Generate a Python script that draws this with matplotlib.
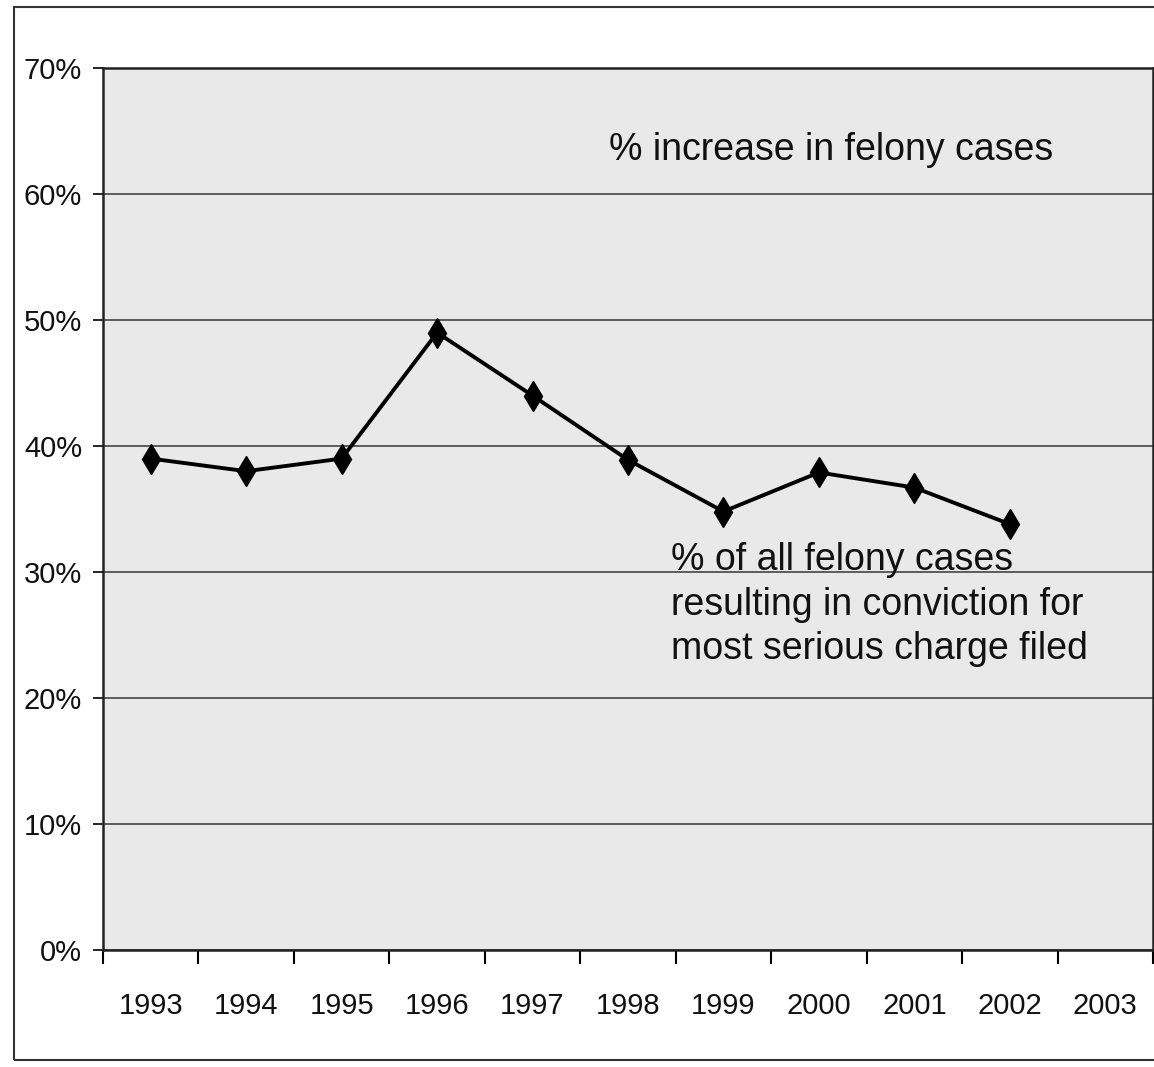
import matplotlib.pyplot as plt
from matplotlib.patches import Rectangle

years = ['1993', '1994', '1995', '1996', '1997', '1998', '1999', '2000', '2001', '2002', '2003']
conviction_pct = [39, 38, 39, 49, 44, 38.9, 34.8, 37.9, 36.7, 33.8]
y_ticks = [0, 10, 20, 30, 40, 50, 60, 70]
y_labels = ['0%', '10%', '20%', '30%', '40%', '50%', '60%', '70%']

tick_font = ['Liberation Sans Narrow', 'Liberation Sans', 'DejaVu Sans']
text_font = ['Liberation Sans', 'DejaVu Sans']

fig = plt.figure(figsize=(11.54, 10.67), dpi=100)
fig.patch.set_facecolor('white')

# outer frame of the scanned page
fig.patches.append(Rectangle((14 / 1154, 7 / 1067), 1.0, 1053 / 1067,
                             transform=fig.transFigure, fill=False,
                             edgecolor='#333333', linewidth=1.5))

ax = fig.add_axes([103 / 1154, 117 / 1067, 1050 / 1154, 882 / 1067])
ax.set_facecolor('#e9e9e9')

x = list(range(len(conviction_pct)))
ax.plot(x, conviction_pct, color='black', linewidth=2.8,
        marker='d', markersize=15, markerfacecolor='black', markeredgecolor='black')

ax.set_xlim(-0.5, len(years) - 0.5)
ax.set_ylim(0, 70)

ax.set_yticks(y_ticks)
ax.set_yticklabels(y_labels, fontfamily=tick_font, fontsize=21, color='#111111')
ax.yaxis.grid(True, color='#444444', linewidth=1.2)
ax.set_axisbelow(True)

ax.set_xticks(range(len(years)))
ax.set_xticklabels(years, fontfamily=tick_font, fontsize=21, color='#111111')
ax.set_xticks([i - 0.5 for i in range(len(years) + 1)], minor=True)
ax.tick_params(axis='x', which='major', length=0, pad=30)
ax.tick_params(axis='x', which='minor', length=10, width=1.5, direction='out')
ax.tick_params(axis='y', length=7, width=1.2, direction='out', pad=8)

for s in ax.spines.values():
    s.set_color('#222222')
    s.set_linewidth(1.8)

ax.text(4.8, 63.5, '% increase in felony cases', fontfamily=text_font,
        fontsize=27, color='#111111', va='center', ha='left')
ax.text(5.45, 27.4, '% of all felony cases\nresulting in conviction for\nmost serious charge filed',
        fontfamily=text_font, fontsize=27, color='#111111', va='center', ha='left',
        linespacing=1.3)

fig.savefig('out.png', dpi=100)
